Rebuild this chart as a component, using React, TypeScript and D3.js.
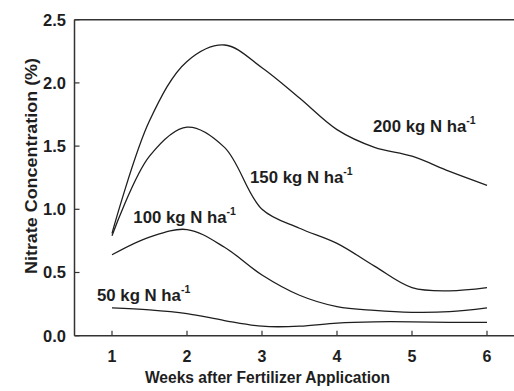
import * as d3 from "d3";
import React from "react";

const W = 514;
const H = 391;

// week positions read at half-week steps
const weeks = [1, 1.5, 2, 2.5, 3, 3.5, 4, 4.5, 5, 5.5, 6];
const n200 = [0.81, 1.7, 2.17, 2.3, 2.12, 1.88, 1.63, 1.49, 1.42, 1.3, 1.19];
const n150 = [0.79, 1.42, 1.65, 1.49, 1.0, 0.85, 0.73, 0.55, 0.38, 0.355, 0.38];
const n100 = [0.64, 0.78, 0.84, 0.7, 0.48, 0.32, 0.23, 0.2, 0.185, 0.19, 0.22];
const n50 = [0.22, 0.205, 0.175, 0.12, 0.075, 0.075, 0.1, 0.11, 0.11, 0.105, 0.105];

const xTicks = [1, 2, 3, 4, 5, 6];
const yTicks = [0, 0.5, 1.0, 1.5, 2.0, 2.5];

// label anchors in data units (week, %)
const labels = [
  { text: "200 kg N ha", x: 4.48, y: 1.614 },
  { text: "150 kg N ha", x: 2.84, y: 1.21 },
  { text: "100 kg N ha", x: 1.284, y: 0.894 },
  { text: "50 kg N ha", x: 0.8, y: 0.277 },
];

const font = "'Liberation Sans', Arial, sans-serif";
const ink = "#1e1e1e";

export default function App() {
  const x = d3.scaleLinear().domain([0.5, 6.5]).range([74.5, 524.5]);
  const y = d3.scaleLinear().domain([0, 2.5]).range([335.7, 19.7]);

  const line = d3
    .line<number>()
    .x((_, i) => x(weeks[i]))
    .y((d) => y(d))
    .curve(d3.curveCatmullRom.alpha(0.5));

  const series = [n200, n150, n100, n50];
  const x0 = x.range()[0];
  const y0 = y(0);
  const yTop = y(2.5);

  return (
    <svg
      width={W}
      height={H}
      style={{ position: "absolute", left: 0, top: 0, background: "#fff" }}
      fontFamily={font}
    >
      {/* frame */}
      <g stroke="#333" strokeWidth={1.5} fill="none">
        <line x1={x0} x2={W} y1={yTop} y2={yTop} />
        <line x1={x0} x2={W} y1={y0} y2={y0} />
        <line x1={x0} x2={x0} y1={yTop} y2={y0} />
      </g>

      {/* x ticks */}
      {xTicks.map((t) => (
        <g key={"x" + t}>
          <line x1={x(t)} x2={x(t)} y1={y0} y2={y0 - 5} stroke="#333" strokeWidth={1.2} />
          <text x={x(t)} y={362} textAnchor="middle" fontSize={16} fontWeight="bold" fill={ink}>
            {t}
          </text>
        </g>
      ))}

      {/* y ticks */}
      {yTicks.map((t) => (
        <g key={"y" + t}>
          <line x1={x0} x2={x0 + 5} y1={y(t)} y2={y(t)} stroke="#333" strokeWidth={1.2} />
          <text x={66} y={y(t) + 5.8} textAnchor="end" fontSize={16.5} fontWeight="bold" fill={ink}>
            {t.toFixed(1)}
          </text>
        </g>
      ))}

      {/* curves */}
      {series.map((s, i) => (
        <path key={i} d={line(s) || ""} fill="none" stroke={ink} strokeWidth={1.3} />
      ))}

      {/* curve labels */}
      {labels.map((l) => (
        <text key={l.text} x={x(l.x)} y={y(l.y)} fontSize={16.8} fontWeight="bold" fill={ink}>
          {l.text}
          <tspan fontSize={10.5} dy={-7.5}>-1</tspan>
        </text>
      ))}

      {/* axis titles */}
      <text x={267.5} y={383} textAnchor="middle" fontSize={15.6} fontWeight="bold" fill={ink}>
        Weeks after Fertilizer Application
      </text>
      <text
        transform={`translate(36.5,166) rotate(-90)`}
        textAnchor="middle"
        fontSize={16}
        fontWeight="bold"
        fill={ink}
        textLength={216}
        lengthAdjust="spacingAndGlyphs"
      >
        Nitrate Concentration (%)
      </text>
    </svg>
  );
}
